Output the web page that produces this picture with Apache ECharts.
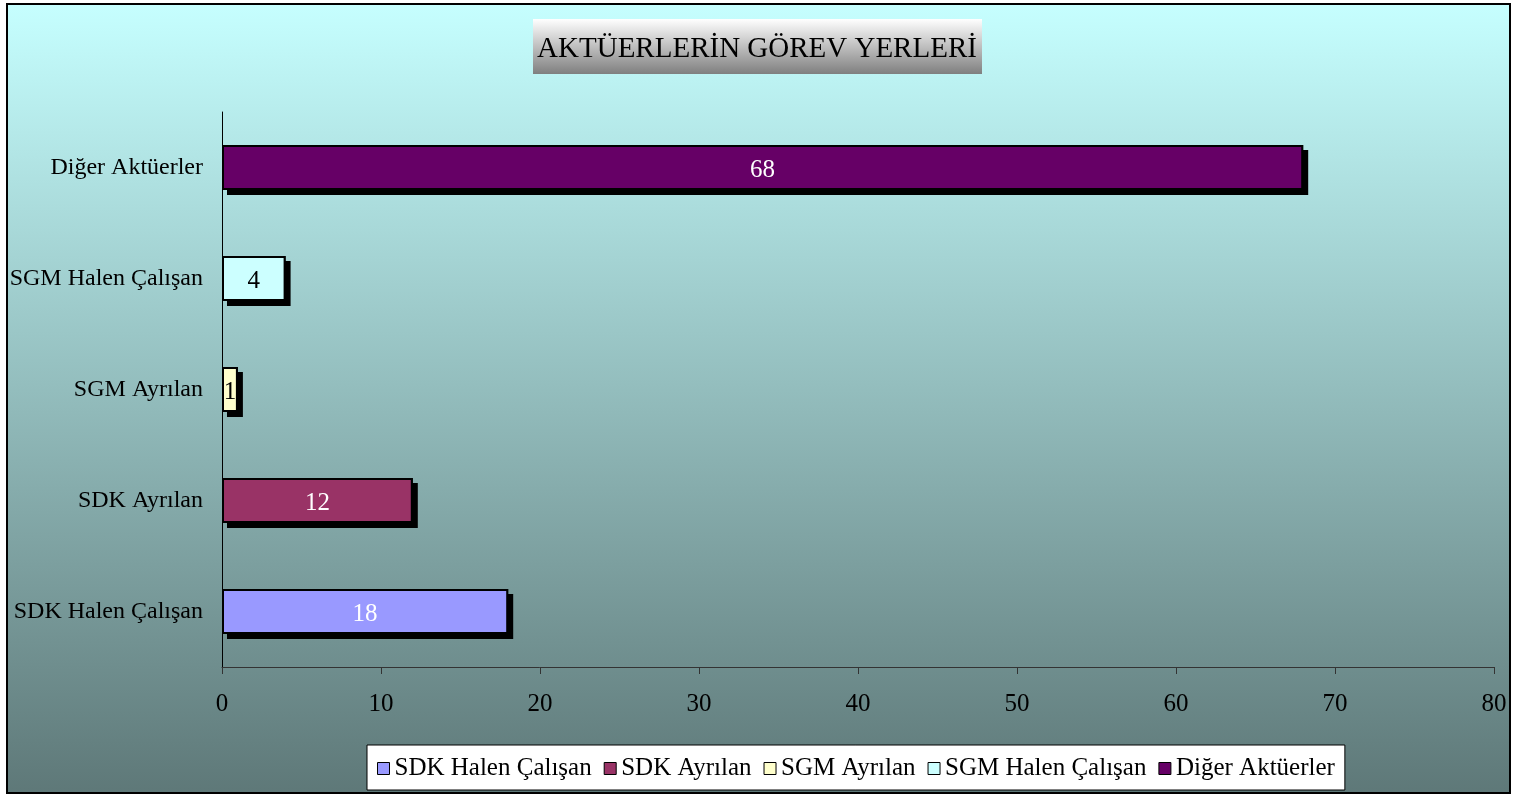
<!DOCTYPE html>
<html>
<head>
<meta charset="utf-8">
<script src="https://cdn.jsdelivr.net/npm/echarts@6/dist/echarts.min.js"></script>
<style>
  html, body { margin: 0; padding: 0; background: #fff; }
  #main { width: 1515px; height: 795px; }
</style>
</head>
<body>
<div id="main"></div>
<script>
// kategoriler ve değerler
var categories = ['SDK Halen Çalışan', 'SDK Ayrılan', 'SGM Ayrılan', 'SGM Halen Çalışan', 'Diğer Aktüerler'];
var values = [18, 12, 1, 4, 68];
var barColors = ['#9999ff', '#993366', '#ffffcc', '#ccffff', '#660066'];
var labelColors = ['#fff', '#fff', '#000', '#000', '#fff'];
var xTicks = [0, 10, 20, 30, 40, 50, 60, 70, 80];

var FONT = 'Liberation Serif';
var FS = 25;

var myChart = echarts.init(document.getElementById('main'));

// gölge serisi (siyah, sağ-alta kaydırılmış)
var series = [{
    name: 'gölge',
    type: 'bar',
    barWidth: 45,
    barGap: '-100%',
    z: 1,
    silent: true,
    data: values,
    itemStyle: {
        color: '#000',
        borderWidth: 0,
        shadowColor: '#000',
        shadowBlur: 0,
        shadowOffsetX: 5,
        shadowOffsetY: 5
    }
}];

// her kategori için ayrı seri (lejant için)
categories.forEach(function (name, i) {
    var d = categories.map(function (c, j) { return j === i ? values[i] : null; });
    series.push({
        name: name,
        type: 'bar',
        stack: 'all',
        barWidth: 45,
        barGap: '-100%',
        z: 3,
        data: d,
        itemStyle: {
            color: barColors[i],
            borderColor: '#000',
            borderWidth: 2
        },
        label: {
            show: true,
            position: 'inside',
            offset: [0, 3],
            color: labelColors[i],
            fontFamily: FONT,
            fontSize: FS
        }
    });
});

var option = {
    animation: false,
    graphic: [
        {   // arka plan + çerçeve
            type: 'rect',
            z: -10,
            shape: { x: 7, y: 4, width: 1503, height: 789 },
            style: {
                fill: {
                    type: 'linear', x: 0, y: 0, x2: 0, y2: 1,
                    colorStops: [{ offset: 0, color: '#c6ffff' }, { offset: 1, color: '#5e7878' }]
                },
                stroke: '#000',
                lineWidth: 2
            }
        },
        {   // başlık kutusu
            type: 'rect',
            z: -5,
            shape: { x: 533, y: 19, width: 449, height: 55 },
            style: {
                fill: {
                    type: 'linear', x: 0, y: 0, x2: 0, y2: 1,
                    colorStops: [{ offset: 0, color: '#ffffff' }, { offset: 1, color: '#7f7f7f' }]
                }
            }
        },
        {
            type: 'text',
            z: -4,
            x: 757,
            y: 49,
            style: {
                text: 'AKTÜERLERİN GÖREV YERLERİ',
                fill: '#000',
                font: '29px "' + FONT + '"',
                align: 'center',
                verticalAlign: 'middle'
            }
        }
    ],
    legend: {
        data: categories,
        left: 367,
        top: 745,
        backgroundColor: '#fff',
        borderColor: '#000',
        borderWidth: 1,
        padding: [11, 10, 9, 10],
        itemWidth: 12,
        itemHeight: 12,
        itemGap: 12,
        icon: 'rect',
        itemStyle: { borderColor: '#000', borderWidth: 1 },
        textStyle: { fontFamily: FONT, fontSize: FS, color: '#000' }
    },
    grid: {
        left: 222,
        right: 21,
        top: 112,
        bottom: 128,
        containLabel: false
    },
    xAxis: {
        type: 'value',
        min: 0,
        max: 80,
        interval: 10,
        splitLine: { show: false },
        axisLine: { show: true, lineStyle: { color: '#333', width: 1 } },
        axisTick: { show: true, inside: false, length: 7, lineStyle: { color: '#333' } },
        axisLabel: {
            margin: 25,
            fontFamily: FONT,
            fontSize: FS,
            color: '#000',
            formatter: function (v) { return xTicks.indexOf(v) >= 0 ? String(v) : ''; }
        }
    },
    yAxis: {
        type: 'category',
        data: categories,
        axisLine: { show: true, lineStyle: { color: '#000', width: 1 } },
        axisTick: { show: false },
        axisLabel: {
            margin: 19,
            padding: [7, 0, 0, 0],
            fontFamily: FONT,
            fontSize: 24,
            color: '#000'
        }
    },
    series: series
};

myChart.setOption(option);
</script>
</body>
</html>
